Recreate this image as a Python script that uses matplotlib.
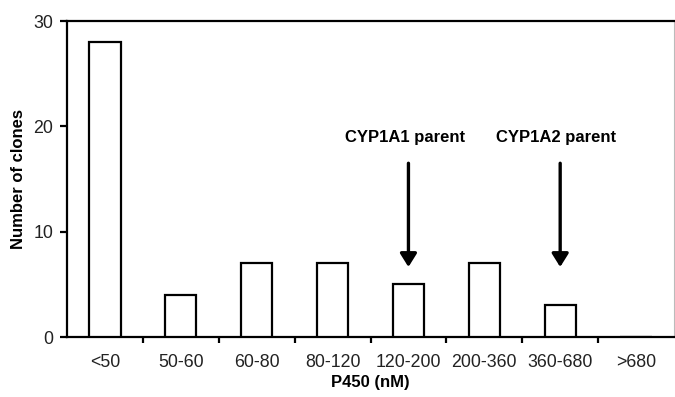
import numpy as np
import matplotlib
matplotlib.use("Agg")
from matplotlib import pyplot as plt

plt.rcParams['font.family'] = ['Liberation Sans', 'DejaVu Sans']

categories = ['<50', '50-60', '60-80', '80-120', '120-200', '200-360', '360-680', '>680']
clones = [28, 4, 7, 7, 5, 7, 3, 0]

# arrows pointing at the bins holding the parent enzymes
parents = ['CYP1A1 parent', 'CYP1A2 parent']
parent_bins = ['120-200', '360-680']

fig = plt.figure(figsize=(6.75, 3.97), dpi=100)
ax = fig.add_axes([0.0993, 0.151, 0.8992, 0.796])

x = np.arange(len(categories))
ax.bar(x, clones, width=0.41, facecolor='white', edgecolor='black', linewidth=1.6, zorder=3)

ax.set_xlim(-0.5, len(categories) - 0.5)
ax.set_ylim(0, 30)
ax.set_yticks([0, 10, 20, 30])

# tick marks sit on bin boundaries, labels under bin centres
ax.set_xticks(x[:-1] + 0.5)
ax.set_xticklabels([])
ax.set_xticks(x, minor=True)
ax.set_xticklabels(categories, minor=True)
ax.tick_params(axis='x', which='major', length=4, width=1.6, direction='out')
ax.tick_params(axis='x', which='minor', length=0, pad=12, labelsize=12.8, labelcolor='#222222')
ax.tick_params(axis='y', length=5, width=1.6, pad=5, labelsize=12.8, labelcolor='#222222')

for side in ['left', 'bottom', 'top']:
    ax.spines[side].set_linewidth(1.6)
ax.spines['right'].set_linewidth(0.8)
ax.spines['right'].set_color('#bbbbbb')

ax.set_xlabel('P450 (nM)', fontsize=12, fontweight='bold', labelpad=3)
ax.set_ylabel('Number of clones', fontsize=12, fontweight='bold', labelpad=5)

for name, cat in zip(parents, parent_bins):
    i = categories.index(cat)
    ax.annotate('', xy=(i, 6.65), xytext=(i, 16.5),
                arrowprops=dict(arrowstyle='-|>,head_length=0.8,head_width=0.5',
                                color='black', lw=2.4, shrinkA=0, shrinkB=0))
    ax.text(i - 0.05, 18.9, name, ha='center', va='center', fontsize=12, fontweight='bold')

fig.savefig('out.png', dpi=100)
